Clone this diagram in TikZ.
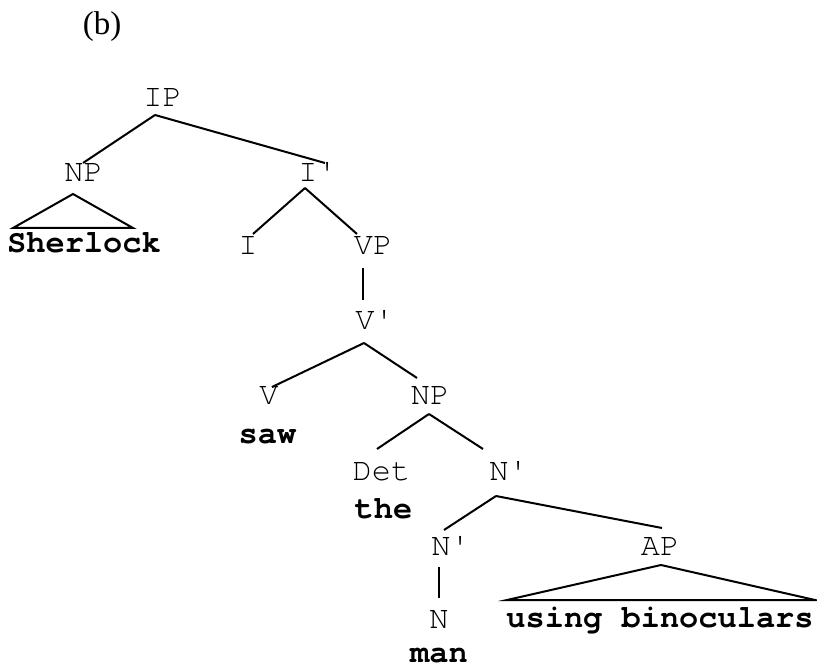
\documentclass[tikz,border=0pt]{standalone}
\usepackage{fontspec}
\setmainfont{Liberation Serif}
\newfontfamily\treefont{TeX Gyre Cursor}
\usetikzlibrary{calc}
\begin{document}
\begin{tikzpicture}[x=1pt,y=-1pt,
  cat/.style={anchor=base,inner sep=0pt,font=\treefont\fontsize{32}{32}\selectfont},
  word/.style={anchor=base,inner sep=0pt,text depth=0pt,font=\treefont\bfseries\fontsize{32}{32}\selectfont},
  edge/.style={line width=2pt}]
\useasboundingbox (0,0) rectangle (817,668);

% panel label
\node[anchor=base,inner sep=0pt,font=\fontsize{33}{33}\selectfont] (panel) at (102,35) {(b)};

% categories
\node[cat] (IP)   at (162.5,107) {IP};
\node[cat] (NP)   at (83.5,182)  {NP};
\node[cat] (Ib)   at (317.6,182) {I'};
\node[word] (sher) at (84,253)   {Sherlock};
\node[cat] (I)    at (248,255)   {I};
\node[cat] (VP)   at (373,255)   {VP};
\node[cat] (Vb)   at (374.6,330) {V'};
\node[cat] (V)    at (269,405)   {V};
\node[cat] (NPo)  at (430,405)   {NP};
\node[word] (saw) at (267.5,443) {saw};
\node[cat] (Det)  at (381.5,480) {Det};
\node[cat] (Nb)   at (508.6,480) {N'};
\node[word] (the) at (383.5,518) {the};
\node[cat] (Nbb)  at (450.6,555) {N'};
\node[cat] (AP)   at (660,555)   {AP};
\node[cat] (N)    at (439,628)   {N};
\node[word] (bino) at (660,627)  {using binoculars};
\node[word] (man) at (439,662)   {man};

% branches
\draw[edge] ($(IP.base)+(-7.5,8)$) -- ($(NP.base)+(-0.5,-19)$);
\draw[edge] ($(IP.base)+(-7.5,8)$) -- ($(Ib.base)+(7.4,-19)$);
\draw[edge] ($(Ib.base)+(-12.6,6)$) -- ($(I.base)+(5,-21)$);
\draw[edge] ($(Ib.base)+(-12.6,6)$) -- ($(VP.base)+(-16,-21)$);
\draw[edge] ($(VP.base)+(-10,13)$) -- ($(Vb.base)+(-11.6,-30)$);
\draw[edge] ($(Vb.base)+(-10.6,13)$) -- ($(V.base)+(3,-18)$);
\draw[edge] ($(Vb.base)+(-10.6,13)$) -- ($(NPo.base)+(-13,-27)$);
\draw[edge] ($(NPo.base)+(-1,9)$) -- ($(Det.base)+(-4.5,-31)$);
\draw[edge] ($(NPo.base)+(-1,9)$) -- ($(Nb.base)+(-25.6,-31)$);
\draw[edge] ($(Nb.base)+(-12.6,16)$) -- ($(Nbb.base)+(-6.6,-25)$);
\draw[edge] ($(Nb.base)+(-12.6,16)$) -- ($(AP.base)+(2,-27)$);
\draw[edge] ($(Nbb.base)+(-11.6,12)$) -- ($(N.base)+(0,-30)$);

% roof triangles
\draw[edge] ($(NP.base)+(-10.5,12)$) -- ($(sher.base)+(-71,-25)$)
  -- ($(sher.base)+(49,-25)$) -- cycle;
\draw[edge] ($(AP.base)+(1,10)$) -- ($(bino.base)+(-153,-27)$)
  -- ($(bino.base)+(155,-27)$) -- cycle;
\end{tikzpicture}
\end{document}
